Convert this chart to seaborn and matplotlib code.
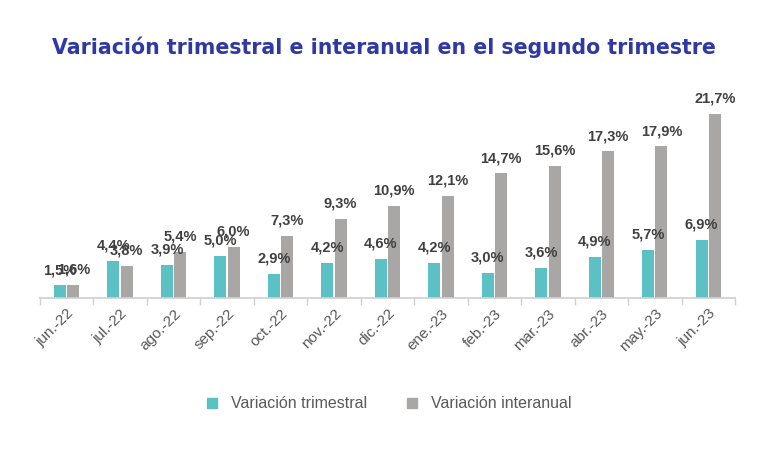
import numpy as np
import pandas as pd
import matplotlib
matplotlib.use("Agg")
import matplotlib.pyplot as plt
import seaborn as sns

meses = ["jun.-22", "jul.-22", "ago.-22", "sep.-22", "oct.-22", "nov.-22", "dic.-22",
         "ene.-23", "feb.-23", "mar.-23", "abr.-23", "may.-23", "jun.-23"]
trimestral = [1.5, 4.4, 3.9, 5.0, 2.9, 4.2, 4.6, 4.2, 3.0, 3.6, 4.9, 5.7, 6.9]
interanual = [1.6, 3.8, 5.4, 6.0, 7.3, 9.3, 10.9, 12.1, 14.7, 15.6, 17.3, 17.9, 21.7]
series = ["Variación trimestral", "Variación interanual"]
colores = ["#5BC1C5", "#A9A6A6"]

df = pd.DataFrame({
    "mes": meses * 2,
    "serie": [series[0]] * len(meses) + [series[1]] * len(meses),
    "valor": trimestral + interanual,
})

sns.set_theme(style="white")
plt.rcParams["font.family"] = ["Liberation Sans", "DejaVu Sans"]

fig = plt.figure(figsize=(7.68, 4.51), dpi=100)
ax = fig.add_axes([0.052, 0.339, 0.905, 0.47])

sns.barplot(data=df, x="mes", y="valor", hue="serie", palette=colores,
            width=0.5, gap=0.1, saturation=1, linewidth=0, ax=ax, legend=False)

# etiquetas de valor
for cont in ax.containers:
    labels = [f"{v:.1f}%".replace(".", ",") for v in cont.datavalues]
    ax.bar_label(cont, labels=labels, padding=6, fontsize=10.5, fontweight="bold",
                 color="#404040")

ax.set_ylim(0, 25)
ax.set_xlim(-0.5, len(meses) - 0.5)
ax.set_xlabel("")
ax.set_ylabel("")
ax.set_yticks([])
for s in ["top", "right", "left"]:
    ax.spines[s].set_visible(False)
ax.spines["bottom"].set_color("#D0D0D0")

ax.set_xticks(range(len(meses)))
ax.set_xticklabels(meses, rotation=45, ha="right", rotation_mode="anchor",
                   fontsize=11, color="#595959")
ax.tick_params(axis="x", which="major", length=0, pad=6)
ax.set_xticks(np.arange(-0.5, len(meses), 1.0), minor=True)
ax.tick_params(axis="x", which="minor", length=5, color="#D0D0D0", bottom=True)

fig.suptitle("Variación trimestral e interanual en el segundo trimestre",
             x=0.5, y=0.92, fontsize=14.8, fontweight="bold", color="#2E39A6",
             family=["DejaVu Sans"])

handles = [plt.Line2D([], [], marker="s", linestyle="", markersize=7,
                      markerfacecolor=c, markeredgecolor=c) for c in colores]
fig.legend(handles, series, loc="center", bbox_to_anchor=(0.5, 0.105), ncol=2,
           frameon=False, fontsize=11.5, handletextpad=0.2, columnspacing=1.8,
           labelcolor="#595959")

fig.savefig("out.png", dpi=100, facecolor="white")
